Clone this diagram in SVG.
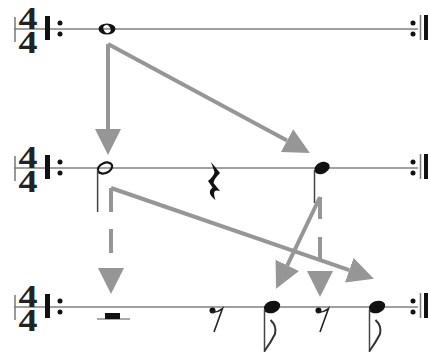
<svg xmlns="http://www.w3.org/2000/svg" width="429" height="354" viewBox="0 0 429 354">
<defs>
<style>
.staff{stroke:#a0a0a0;stroke-width:2;fill:none}
.bar{stroke:#777;stroke-width:1.5}
.thick{fill:#111}
.ts{font-family:"Liberation Serif","Times New Roman",serif;font-weight:bold;font-size:31px;fill:#222;text-anchor:middle}
.dot{fill:#111}
.stem{stroke:#444;stroke-width:1.5;fill:none}
.conn{stroke:#969696;stroke-width:4;fill:none}
.dash{stroke-dasharray:24 17}
</style>
<marker id="ah" markerUnits="userSpaceOnUse" markerWidth="26" markerHeight="26" refX="0" refY="12" orient="auto" viewBox="0 0 24 24">
<path d="M0,0 L24,12 L0,24 Z" fill="#969696"/>
</marker>
<g id="staffTpl">
<line class="bar" x1="15" y1="-12" x2="15" y2="13"/>
<text class="ts" x="28" y="0" textLength="19" lengthAdjust="spacingAndGlyphs">4</text>
<text class="ts" x="28" y="24" textLength="19" lengthAdjust="spacingAndGlyphs">4</text>
<rect class="thick" x="45" y="-13" width="5" height="24"/>
<circle class="dot" cx="60" cy="-6" r="2.5"/>
<circle class="dot" cx="60" cy="5" r="2.5"/>
<circle class="dot" cx="413" cy="-6" r="2.5"/>
<circle class="dot" cx="413" cy="5" r="2.5"/>
<line class="bar" x1="420.5" y1="-14" x2="420.5" y2="11" stroke="#222"/>
<rect class="thick" x="424" y="-14" width="4" height="25"/>
</g>
</defs>
<rect width="429" height="354" fill="#fff"/>

<g id="staves">
<line class="staff" x1="14" y1="29" x2="418" y2="29"/>
<line class="staff" x1="14" y1="168" x2="418" y2="168"/>
<line class="staff" x1="14" y1="307" x2="418" y2="307"/>
<use href="#staffTpl" transform="translate(0,29)"/>
<use href="#staffTpl" transform="translate(0,168)"/>
<use href="#staffTpl" transform="translate(0,307)"/>
</g>

<g id="connectors">
<line class="conn" x1="108" y1="44" x2="108" y2="129" marker-end="url(#ah)"/>
<line class="conn" x1="108" y1="44" x2="287" y2="140.6" marker-end="url(#ah)"/>
<line class="conn dash" x1="111" y1="188" x2="111" y2="268" marker-end="url(#ah)"/>
<line class="conn" x1="111" y1="188" x2="349.3" y2="270.2" marker-end="url(#ah)"/>
<line class="conn" x1="320" y1="197" x2="287.3" y2="265.3" marker-end="url(#ah)"/>
<line class="conn dash" x1="320" y1="197" x2="320" y2="271" style="stroke-dasharray:22 18" marker-end="url(#ah)"/>
</g>

<g id="whole-note">
<path d="M98.5,29 a8.5,5.5 0 1,0 17,0 a8.5,5.5 0 1,0 -17,0 Z M104,30.5 a3.2,4 -30 1,0 6,-3 a3.2,4 -30 1,0 -6,3 Z" fill="#111" fill-rule="evenodd"/>
</g>

<g id="half-note">
<ellipse cx="105" cy="168" rx="7.5" ry="5" transform="rotate(-25 105 168)" fill="none" stroke="#111" stroke-width="2.2"/>
<line class="stem" x1="97.6" y1="170" x2="97.6" y2="212" stroke="#222"/>
</g>

<g id="quarter-rest">
<path d="M211,162 L220,173 Q214,179 213.5,183 L220,191 Q211,188 215.5,200 Q206,193 212.5,187.5 L208,181 Q214,176 214.5,172 Z" fill="#111"/>
</g>

<g id="quarter-note">
<ellipse cx="322" cy="168" rx="8" ry="5.8" transform="rotate(-25 322 168)" fill="#111"/>
<line class="stem" x1="314.5" y1="170" x2="314.5" y2="203"/>
</g>

<g id="half-rest">
<line x1="97" y1="319" x2="130" y2="319" stroke="#555" stroke-width="1"/>
<rect x="105" y="313" width="15" height="6" fill="#111"/>
</g>

<g id="eighth-rest-1">
<circle cx="212.5" cy="310.5" r="3" fill="#111"/>
<path d="M211,312 Q217,313 222.5,308.5 L214,332" stroke="#222" stroke-width="1.6" fill="none"/>
</g>

<g id="eighth-note-1">
<ellipse cx="272" cy="307" rx="8.5" ry="6" transform="rotate(-20 272 307)" fill="#111"/>
<line class="stem" x1="264.5" y1="309" x2="264.5" y2="352"/>
<path d="M264.5,351 Q271,342 275,334 Q277,326 270.5,320" stroke="#333" stroke-width="2" fill="none"/>
</g>

<g id="eighth-rest-2">
<circle cx="318.5" cy="310.5" r="3" fill="#111"/>
<path d="M317,312 Q323,313 328.5,308.5 L320,332" stroke="#222" stroke-width="1.6" fill="none"/>
</g>

<g id="eighth-note-2">
<ellipse cx="377" cy="307" rx="8.5" ry="6" transform="rotate(-20 377 307)" fill="#111"/>
<line class="stem" x1="369.5" y1="309" x2="369.5" y2="352"/>
<path d="M369.5,351 Q376,342 380,334 Q382,326 375.5,320" stroke="#333" stroke-width="2" fill="none"/>
</g>
</svg>
